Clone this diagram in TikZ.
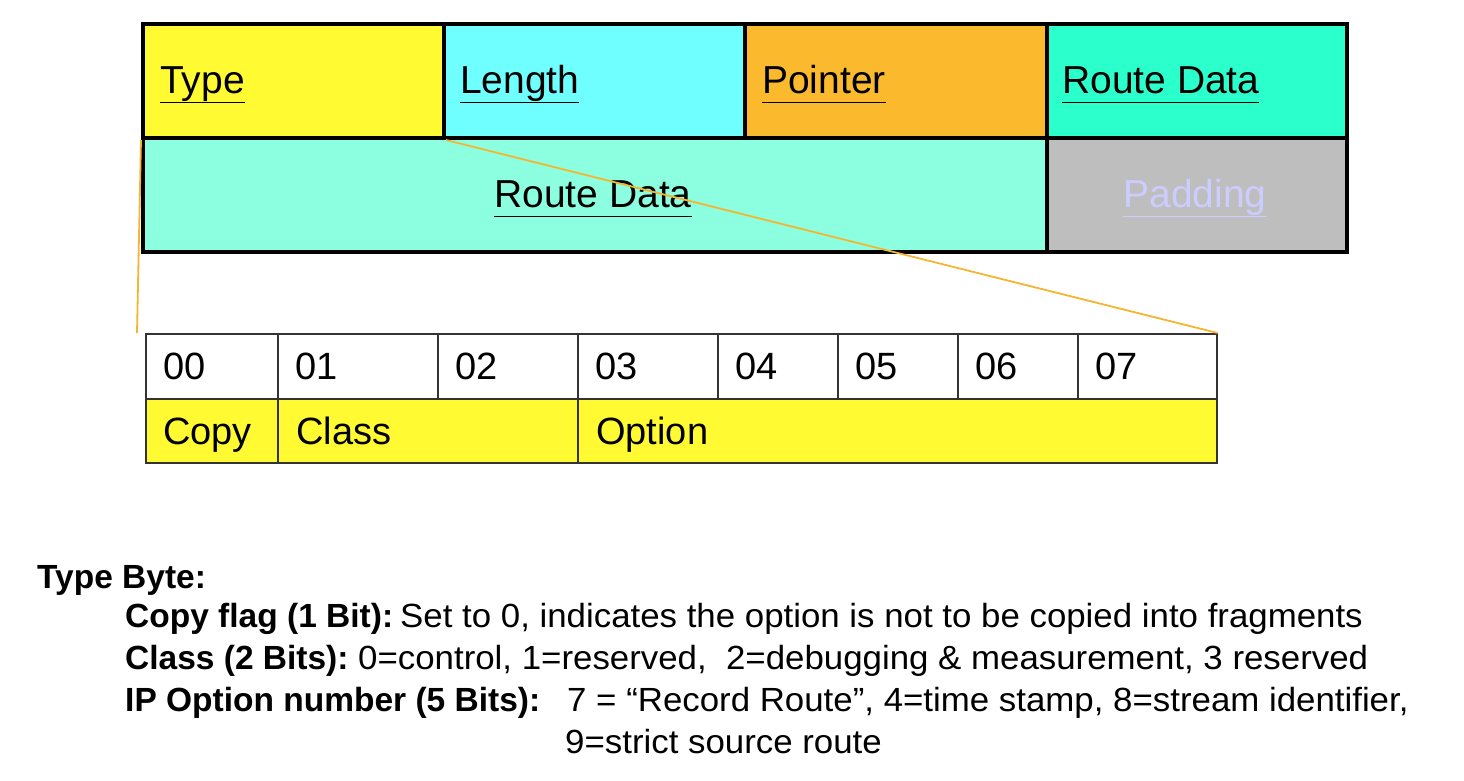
\documentclass[tikz,border=0pt]{standalone}
\usepackage{fontspec}
\setmainfont{Liberation Sans}
\newfontfamily\descfont[FakeStretch=1.04]{Liberation Sans}
\definecolor{cType}{RGB}{255,250,50}
\definecolor{cLen}{RGB}{112,255,255}
\definecolor{cPtr}{RGB}{251,186,45}
\definecolor{cRD}{RGB}{43,255,204}
\definecolor{cRD2}{RGB}{140,255,224}
\definecolor{cPad}{RGB}{190,190,190}
\definecolor{cPadTxt}{RGB}{204,204,255}
\definecolor{cLine}{RGB}{245,180,50}
\definecolor{cBit}{RGB}{255,250,50}
\newcommand\ulx[1]{\underline{#1\vphantom{gy}}}
\begin{document}
\begin{tikzpicture}[x=1pt,y=-1pt,
  topcell/.style={rectangle,draw=black,line width=4pt,inner sep=0pt,anchor=north west},
  bitcell/.style={rectangle,draw=black!80,line width=1.6pt,inner sep=0pt,anchor=north west},
  toptxt/.style={anchor=base west,inner sep=0pt,font=\fontsize{39}{44}\selectfont},
  bittxt/.style={anchor=base west,inner sep=0pt,font=\fontsize{38}{44}\selectfont},
  desc/.style={anchor=base west,inner sep=0pt,font=\descfont\fontsize{33.5}{38}\selectfont},
  descb/.style={anchor=base west,inner sep=0pt,font=\fontsize{33.5}{38}\selectfont\bfseries},
  zoomline/.style={draw=cLine,line width=1.8pt}]
\useasboundingbox (0,0) rectangle (1464,780);
% top table
\node[topcell,fill=cType,minimum width=301pt,minimum height=114pt] (type) at (141,22) {};
\node[topcell,fill=cLen,minimum width=301pt,minimum height=114pt] (len) at (442,22) {};
\node[topcell,fill=cPtr,minimum width=302pt,minimum height=114pt] (ptr) at (743,22) {};
\node[topcell,fill=cRD,minimum width=300pt,minimum height=114pt] (rd1) at (1045,22) {};
\node[topcell,fill=cRD2,minimum width=904pt,minimum height=114pt] (rd2) at (141,136) {};
\node[topcell,fill=cPad,minimum width=300pt,minimum height=114pt] (pad) at (1045,136) {};
\node[toptxt] (ttype) at (160,93) {\ulx{Type}};
\node[toptxt] (tlen) at (460,93) {\ulx{Length}};
\node[toptxt] (tptr) at (762,93) {\ulx{Pointer}};
\node[toptxt] (trd1) at (1062,93) {\ulx{Route Data}};
\node[toptxt,anchor=base] (trd2) at (593,207) {\ulx{Route Data}};
\node[toptxt,anchor=base,text=cPadTxt] (tpad) at (1195,207) {\ulx{Padding}};
% bit table
\foreach \n/\a/\b in {0/145/277,1/277/437,2/437/577,3/577/717,4/717/837,5/837/957,6/957/1077,7/1077/1216}{
  \pgfmathsetmacro\w{\b-\a}
  \node[bitcell,fill=white,minimum width=\w pt,minimum height=65pt] (b\n) at (\a,333) {};
  \node[bittxt] (tb\n) at (\a+18,379) {0\n};
}
\node[bitcell,fill=cBit,minimum width=132pt,minimum height=64pt] (copy) at (145,398) {};
\node[bitcell,fill=cBit,minimum width=300pt,minimum height=64pt] (class) at (277,398) {};
\node[bitcell,fill=cBit,minimum width=639pt,minimum height=64pt] (opt) at (577,398) {};
\node[bittxt] (tcopy) at (163,444) {Copy};
\node[bittxt] (tclass) at (296,444) {Class};
\node[bittxt] (topt) at (596,444) {Option};
% zoom lines
\coordinate (zl) at (137,333);
\draw[zoomline] (type.south west) -- (zl);
\draw[zoomline] (type.south east) -- (b7.north east);
% description
\node[descb] (d0) at (37,588) {Type Byte:};
\node[descb] (d1b) at (125,627) {Copy flag (1 Bit):};
\node[desc] (d1) at (400,627) {Set to 0, indicates the option is not to be copied into fragments};
\node[descb] (d2b) at (125,669) {Class (2 Bits):};
\node[desc] (d2) at (358,669) {0=control, 1=reserved,~ 2=debugging \& measurement, 3 reserved};
\node[descb] (d3b) at (125,711) {IP Option number (5 Bits):};
\node[desc] (d3) at (567,711) {7 = “Record Route”, 4=time stamp, 8=stream identifier,};
\node[desc] (d4) at (565,753) {9=strict source route};
\end{tikzpicture}
\end{document}
